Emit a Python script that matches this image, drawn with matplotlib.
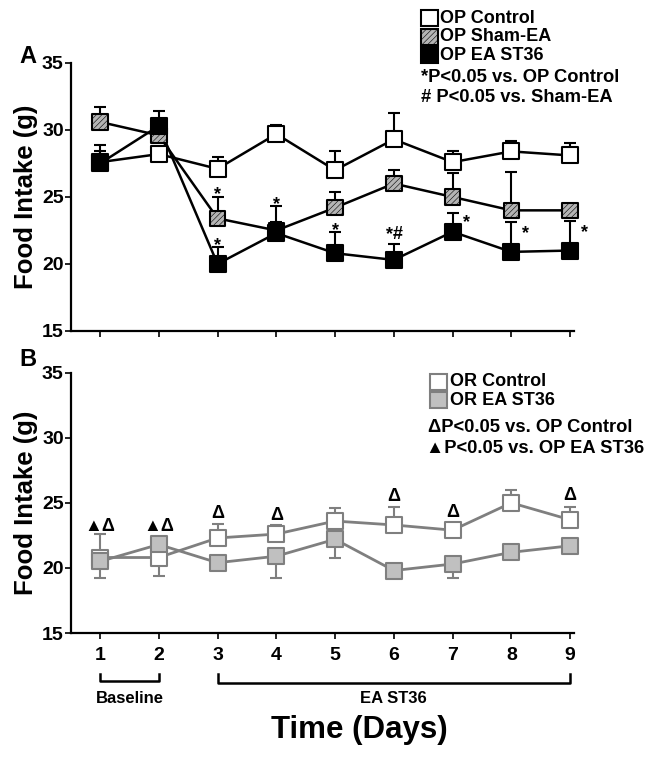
import numpy as np
import matplotlib
matplotlib.use('Agg')
import matplotlib.pyplot as plt
import matplotlib.transforms as mtransforms

plt.rcParams['font.family'] = ['Liberation Sans', 'DejaVu Sans']
plt.rcParams['font.weight'] = 'bold'
plt.rcParams['hatch.linewidth'] = 0.4

days = np.arange(1, 10)

# panel A, obese-prone rats
op_control = [27.6, 28.2, 27.1, 29.7, 27.0, 29.3, 27.6, 28.4, 28.1]
op_control_up = [1.3, 0.3, 0.9, 0.7, 1.4, 2.0, 0.8, 0.8, 0.9]
op_sham = [30.6, 29.6, 23.4, 22.5, 24.2, 26.0, 25.0, 24.0, 24.0]
op_sham_up = [1.1, 0.4, 1.6, 0.6, 1.2, 1.0, 1.8, 2.9, 0.0]
op_ea = [27.5, 30.3, 20.0, 22.3, 20.8, 20.3, 22.4, 20.9, 21.0]
op_ea_up = [0.9, 1.1, 1.3, 2.0, 1.6, 1.2, 1.4, 2.2, 2.2]

# significance marks: (day, text, centre y, x shift in days)
annot_a = [(3, '*', 25.6, 0), (3, '*', 21.8, 0), (4, '*', 24.9, 0),
           (5, '*', 22.9, 0), (5.93, '*', 22.6, 0), (6.07, '#', 22.3, 0),
           (7, '*', 23.5, 0.24), (8, '*', 22.7, 0.24), (9, '*', 22.8, 0.24)]

# panel B, obese-resistant rats
or_control = [20.8, 20.8, 22.3, 22.6, 23.6, 23.3, 22.9, 25.0, 23.7]
or_control_up = [1.8, 0.0, 1.1, 0.7, 1.0, 1.4, 0.0, 1.0, 1.0]
or_control_dn = [0.0, 1.4, 0.0, 0.0, 0.0, 0.0, 0.0, 0.0, 0.0]
or_ea = [20.5, 21.8, 20.4, 20.9, 22.2, 19.8, 20.3, 21.2, 21.7]
or_ea_dn = [1.3, 0.0, 0.3, 1.7, 1.4, 0.0, 1.1, 0.3, 0.3]
annot_b = [(1, '▲Δ', 23.3), (2, '▲Δ', 23.3), (3, 'Δ', 24.3), (4, 'Δ', 24.2),
           (6, 'Δ', 25.6), (7, 'Δ', 24.4), (9, 'Δ', 25.7)]

fig = plt.figure(figsize=(6.54, 7.59), dpi=100)
axA = fig.add_axes([0.108, 0.564, 0.770, 0.353])
axB = fig.add_axes([0.108, 0.166, 0.770, 0.343])


def series(ax, y, up, dn, color, face, hatch=None, lw=1.8):
    eb = ax.errorbar(days, y, yerr=[dn, up], fmt='none', ecolor=color, elinewidth=1.5,
                     capsize=4.5, capthick=1.5, zorder=2)
    for art in list(eb.lines[1]) + list(eb.lines[2]):
        art.set_clip_on(False)
    ax.plot(days, y, '-', color=color, lw=lw, zorder=2, clip_on=False)
    ax.scatter(days, y, s=125, marker='s', facecolor=face, edgecolor=color,
               linewidth=1.5, hatch=hatch, zorder=3, clip_on=False)


def style(ax):
    ax.set_xlim(0.5, 9.07)
    ax.set_ylim(15, 35)
    ax.set_yticks([15, 20, 25, 30, 35])
    ax.set_xticks(days)
    for s in ['top', 'right']:
        ax.spines[s].set_visible(False)
    for s in ['left', 'bottom']:
        ax.spines[s].set_linewidth(1.6)
    ax.tick_params(axis='y', length=4, width=1.2, pad=1, labelsize=14)
    ax.tick_params(axis='x', length=4, width=1.2, pad=6, labelsize=14)
    ax.set_ylabel('Food Intake (g)', fontsize=18.5, fontweight='bold', labelpad=3)


zero = [0] * 9
series(axA, op_control, op_control_up, zero, 'black', 'white')
series(axA, op_sham, op_sham_up, zero, 'black', '#b4b4b4', hatch='//////')
series(axA, op_ea, op_ea_up, zero, 'black', 'black')
style(axA)
axA.tick_params(axis='x', labelbottom=False)
for d, t, y, dx in annot_a:
    dy = -7.5 if t == '*' else -4.5
    axA.annotate(t, (d + dx, y), xytext=(0, dy), textcoords='offset points',
                 ha='center', va='baseline', fontsize=13, fontweight='bold',
                 annotation_clip=False)

gray = '#7f7f7f'
series(axB, or_control, or_control_up, or_control_dn, gray, 'white', lw=2.0)
series(axB, or_ea, zero, or_ea_dn, gray, '#c0c0c0', lw=2.0)
style(axB)
for d, t, y in annot_b:
    axB.annotate(t, (d, y), xytext=(0, -4.5), textcoords='offset points',
                 ha='center', va='baseline', fontsize=13, fontweight='bold',
                 annotation_clip=False)

# panel letters
fig.text(0.043, 0.925, 'A', fontsize=17, fontweight='bold', ha='center', va='center')
fig.text(0.043, 0.526, 'B', fontsize=17, fontweight='bold', ha='center', va='center')


def legend(x0, y0, items, fs=13):
    for i, (lab, face, edge, hatch) in enumerate(items):
        yy = y0 - i * 0.0245
        fig.patches.append(plt.Rectangle((x0, yy - 0.0105), 0.026, 0.021,
                                         transform=fig.transFigure, facecolor=face,
                                         edgecolor=edge, linewidth=1.5, hatch=hatch))
        fig.text(x0 + 0.030, yy, lab, fontsize=fs, fontweight='bold', va='center')


legend(0.643, 0.976, [('OP Control', 'white', 'black', None),
                      ('OP Sham-EA', '#b4b4b4', 'black', '//////'),
                      ('OP EA ST36', 'black', 'black', None)])
fig.text(0.643, 0.898, '*P<0.05 vs. OP Control', fontsize=13.2, fontweight='bold', va='center')
fig.text(0.643, 0.871, '# P<0.05 vs. Sham-EA', fontsize=13.2, fontweight='bold', va='center')

legend(0.658, 0.497, [('OR Control', 'white', gray, None),
                      ('OR EA ST36', '#c0c0c0', gray, None)])
fig.text(0.655, 0.437, 'ΔP<0.05 vs. OP Control', fontsize=13.2, fontweight='bold', va='center')
fig.text(0.652, 0.409, '▲P<0.05 vs. OP EA ST36', fontsize=13.2, fontweight='bold', va='center')

# brackets under the x axis of panel B
trans = mtransforms.blended_transform_factory(axB.transData, fig.transFigure)
for x0, x1, ytop, ybot in [(1, 2, 0.112, 0.103), (3, 9, 0.112, 0.100)]:
    axB.plot([x0, x0, x1, x1], [ytop, ybot, ybot, ytop], color='black', lw=1.8,
             transform=trans, clip_on=False)
axB.text(1.5, 0.080, 'Baseline', transform=trans, ha='center', va='center',
         fontsize=12, fontweight='bold')
axB.text(6.0, 0.080, 'EA ST36', transform=trans, ha='center', va='center',
         fontsize=12, fontweight='bold')
fig.text(0.55, 0.038, 'Time (Days)', ha='center', va='center', fontsize=22.5,
         fontweight='bold')

fig.savefig('out.png', dpi=100)
